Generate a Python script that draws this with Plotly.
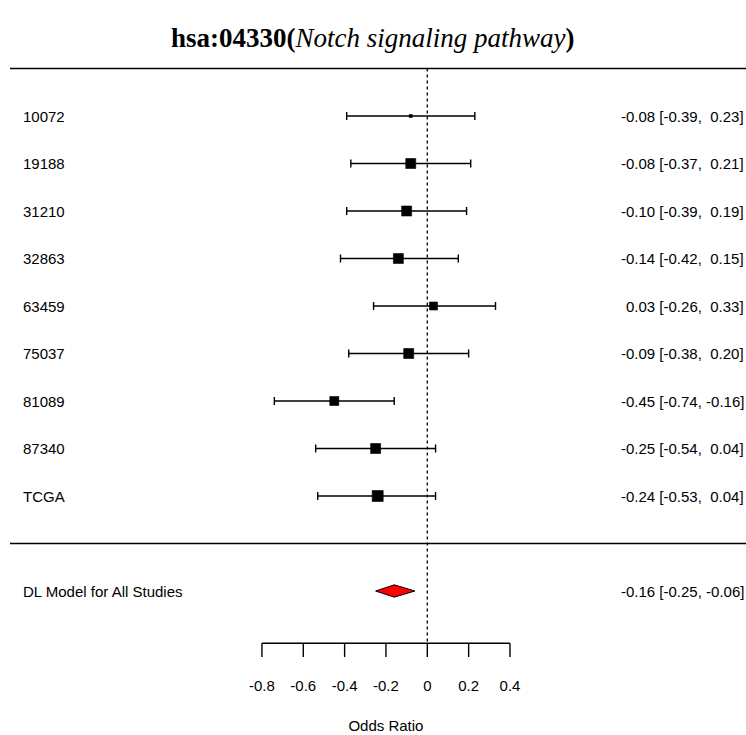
import plotly.graph_objects as go

# ---------------- data ----------------
studies = ["10072", "19188", "31210", "32863", "63459", "75037", "81089", "87340", "TCGA"]
est = [-0.08, -0.08, -0.10, -0.14, 0.03, -0.09, -0.45, -0.25, -0.24]
ci_lb = [-0.39, -0.37, -0.39, -0.42, -0.26, -0.38, -0.74, -0.54, -0.53]
ci_ub = [0.23, 0.21, 0.19, 0.15, 0.33, 0.20, -0.16, 0.04, 0.04]
weights = [3, 10, 10, 10, 8, 10, 9, 10, 11]  # marker size ~ study weight
summary_label = "DL Model for All Studies"
summary_est = -0.16
summary_lb = -0.25
summary_ub = -0.06
tick_vals = [-0.8, -0.6, -0.4, -0.2, 0, 0.2, 0.4]
tick_text = ["-0.8", "-0.6", "-0.4", "-0.2", "0", "0.2", "0.4"]
x_label = "Odds Ratio"
title_main = "hsa:04330"
title_sub = "Notch signaling pathway"

# ---------------- layout geometry ----------------
W, H = 746, 735
k = len(studies)
rows = list(range(k, 0, -1))          # 9 .. 1
row_top_line = k + 1
row_sep = 0
row_summary = -1
row_axis = -2.1
PX_PER_UNIT = 206.7
X0_PX = 427.3
ROW_PX = 47.5
Y_ROW9_PX = 116

x_min = -X0_PX / PX_PER_UNIT
x_max = (W - X0_PX) / PX_PER_UNIT
y_max = k + Y_ROW9_PX / ROW_PX
y_min = k - (H - Y_ROW9_PX) / ROW_PX

FONT = "Liberation Sans, Arial, sans-serif"
FS = 15

def fmt(v):
    return f"{v:.2f}"

def ci_text(e, l, u):
    def pad(v):
        s = fmt(v)
        return s if v < 0 else "\u00a0" + s
    return f"{fmt(e)} [{fmt(l)}, {pad(u)}]"

fig = go.Figure()

# study estimates with CIs
fig.add_trace(go.Scatter(
    x=est, y=rows, mode="markers",
    marker=dict(symbol="square", size=weights, color="#000000", opacity=1,
                line=dict(width=0.6, color="#000000")),
    error_x=dict(type="data", symmetric=False,
                 array=[u - e for u, e in zip(ci_ub, est)],
                 arrayminus=[e - l for l, e in zip(ci_lb, est)],
                 color="#000000", thickness=1.4, width=4),
    hoverinfo="skip", showlegend=False,
))

# summary diamond
dh = 0.13
fig.add_trace(go.Scatter(
    x=[summary_lb, summary_est, summary_ub, summary_est, summary_lb],
    y=[row_summary, row_summary + dh, row_summary, row_summary - dh, row_summary],
    mode="lines", fill="toself", fillcolor="#ff0000",
    line=dict(color="black", width=1), hoverinfo="skip", showlegend=False,
))

# x axis (drawn)
tick_len = 0.29
ax_x, ax_y = [tick_vals[0], tick_vals[-1]], [row_axis, row_axis]
fig.add_trace(go.Scatter(x=ax_x, y=ax_y, mode="lines",
                         line=dict(color="black", width=1.4),
                         hoverinfo="skip", showlegend=False))
tx, ty = [], []
for t in tick_vals:
    tx += [t, t, None]
    ty += [row_axis, row_axis - tick_len, None]
fig.add_trace(go.Scatter(x=tx, y=ty, mode="lines",
                         line=dict(color="black", width=1.4),
                         hoverinfo="skip", showlegend=False))
fig.add_trace(go.Scatter(x=tick_vals, y=[row_axis - 0.92] * len(tick_vals),
                         mode="text", text=tick_text,
                         textfont=dict(family=FONT, size=FS, color="black"),
                         hoverinfo="skip", showlegend=False))
fig.add_trace(go.Scatter(x=[(tick_vals[0] + tick_vals[-1]) / 2], y=[row_axis - 1.76],
                         mode="text", text=[x_label],
                         textfont=dict(family=FONT, size=FS, color="black"),
                         hoverinfo="skip", showlegend=False))

shapes = [
    dict(type="line", xref="paper", yref="y", x0=10 / W, x1=1, y0=row_top_line, y1=row_top_line,
         line=dict(color="black", width=1.4)),
    dict(type="line", xref="paper", yref="y", x0=10 / W, x1=1, y0=row_sep, y1=row_sep,
         line=dict(color="black", width=1.4)),
    dict(type="line", xref="x", yref="y", x0=0, x1=0, y0=row_top_line, y1=row_axis,
         line=dict(color="black", width=1.3, dash="dot")),
]

annotations = []
for lab, r, e, l, u in zip(studies, rows, est, ci_lb, ci_ub):
    annotations.append(dict(x=21 / W, xref="paper", y=r, yref="y", text=lab,
                            showarrow=False, xanchor="left", yanchor="middle",
                            font=dict(family=FONT, size=FS, color="black")))
    annotations.append(dict(x=1, xref="paper", y=r, yref="y", text=ci_text(e, l, u),
                            showarrow=False, xanchor="right", yanchor="middle",
                            font=dict(family=FONT, size=FS, color="black")))
annotations.append(dict(x=21 / W, xref="paper", y=row_summary, yref="y", text=summary_label,
                        showarrow=False, xanchor="left", yanchor="middle",
                        font=dict(family=FONT, size=FS, color="black")))
annotations.append(dict(x=1, xref="paper", y=row_summary, yref="y",
                        text=ci_text(summary_est, summary_lb, summary_ub),
                        showarrow=False, xanchor="right", yanchor="middle",
                        font=dict(family=FONT, size=FS, color="black")))
annotations.append(dict(x=0.5, xref="paper", y=1 - 38 / H, yref="paper",
                        text=f"<b>{title_main}(</b><i>{title_sub}</i><b>)</b>",
                        showarrow=False, xanchor="center", yanchor="middle",
                        font=dict(family="Liberation Serif, Times New Roman, serif", size=27, color="black")))

fig.update_layout(
    width=W, height=H, margin=dict(l=0, r=0, t=0, b=0),
    paper_bgcolor="white", plot_bgcolor="white",
    xaxis=dict(range=[x_min, x_max], visible=False, fixedrange=True),
    yaxis=dict(range=[y_min, y_max], visible=False, fixedrange=True),
    shapes=shapes, annotations=annotations, showlegend=False,
)

fig.write_html("out.html")
